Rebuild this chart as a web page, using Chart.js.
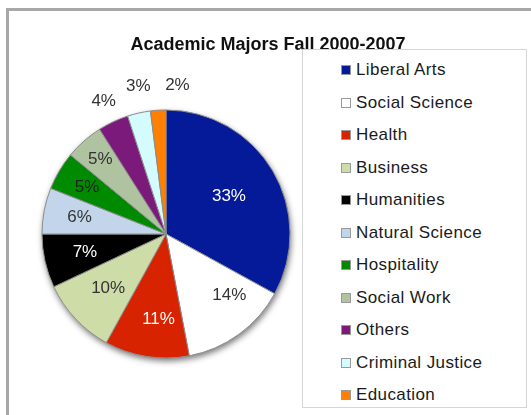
<!DOCTYPE html>
<html>
<head>
<meta charset="utf-8">
<title>Academic Majors Fall 2000-2007</title>
<script src="https://cdn.jsdelivr.net/npm/chart.js@4/dist/chart.umd.min.js"></script>
<style>
    html, body { margin: 0; padding: 0; background: #fff; }
    body {
        width: 531px;
        height: 415px;
        position: relative;
        overflow: hidden;
        font-family: "Liberation Sans", Arial, sans-serif;
    }
    #frame {
        position: absolute;
        left: 6px;
        top: 8px;
        width: 525px;
        height: 407px;
        border-top: 3px solid #a8a8a8;
        border-left: 3px solid #a8a8a8;
        box-sizing: border-box;
    }
    #majorsChart { position: absolute; left: 0; top: 0; }
    #chartTitle {
        position: absolute;
        left: 0;
        width: 536px;
        top: 34px;
        text-align: center;
        font-size: 18px;
        font-weight: bold;
        color: #111;
    }
    #legend {
        position: absolute;
        left: 302px;
        top: 49px;
        width: 225px;
        height: 359px;
        border: 1px solid #d6d6d6;
        box-sizing: border-box;
        background: #fff;
    }
    #legend ul { list-style: none; margin: 0; padding: 4px 0 0 38px; }
    #legend li {
        display: flex;
        align-items: center;
        height: 32.5px;
        font-size: 17px;
        letter-spacing: 0.4px;
        color: #1a1a1a;
    }
    #legend .swatch {
        width: 8px;
        height: 8px;
        border: 1px solid #9a9a9a;
        margin-right: 5px;
        flex: none;
    }
</style>
</head>
<body>
<div id="frame"></div>
<canvas id="majorsChart" width="531" height="415"></canvas>
<div id="chartTitle">Academic Majors Fall 2000-2007</div>
<div id="legend"><ul id="legendList"></ul></div>

<script>
// Majors and their share (%), clockwise from 12 o'clock
const majors = ['Liberal Arts', 'Social Science', 'Health', 'Business', 'Humanities',
    'Natural Science', 'Hospitality', 'Social Work', 'Others', 'Criminal Justice', 'Education'];
const shares = [33, 14, 11, 10, 7, 6, 5, 5, 4, 3, 2];
const sliceColors = ['#041a98', '#ffffff', '#d82300', '#cedca8', '#000000',
    '#c3d5ea', '#008a00', '#afc3a0', '#7b1a7a', '#d4fbfd', '#ff7f00'];
const labelColors = ['#ffffff', '#333333', '#ffffff', '#333333', '#ffffff',
    '#333333', '#222222', '#333333', '#333333', '#333333', '#333333'];

// Where each percentage sits: fraction of the radius, plus a small angle nudge (degrees)
const labelRadius = [0.59, 0.71, 0.69, 0.64, 0.67, 0.71, 0.74, 0.80, 1.18, 1.21, 1.20];
const labelNudge = [0, -10, -4, 0, 0, 0, 0, 0, 0, 2, 8];

// Soft shadow under the whole pie
const pieShadow = {
    id: 'pieShadow',
    beforeDatasetsDraw(chart) {
        const arc = chart.getDatasetMeta(0).data[0];
        if (!arc) return;
        const { x, y, outerRadius } = arc.getProps(['x', 'y', 'outerRadius'], true);
        const ctx = chart.ctx;
        ctx.save();
        ctx.shadowColor = 'rgba(0, 0, 0, 0.55)';
        ctx.shadowBlur = 6;
        ctx.shadowOffsetX = 1;
        ctx.shadowOffsetY = 3;
        ctx.fillStyle = '#ffffff';
        ctx.beginPath();
        ctx.arc(x, y, outerRadius, 0, Math.PI * 2);
        ctx.fill();
        ctx.restore();
    }
};

// Percentage labels on / around the slices
const sliceLabels = {
    id: 'sliceLabels',
    afterDatasetsDraw(chart) {
        const ctx = chart.ctx;
        const meta = chart.getDatasetMeta(0);
        ctx.save();
        ctx.font = '17px "Liberation Sans", Arial, sans-serif';
        ctx.textAlign = 'center';
        ctx.textBaseline = 'middle';
        meta.data.forEach((arc, i) => {
            const p = arc.getProps(['x', 'y', 'startAngle', 'endAngle', 'outerRadius'], true);
            const mid = (p.startAngle + p.endAngle) / 2 + labelNudge[i] * Math.PI / 180;
            const r = p.outerRadius * labelRadius[i];
            ctx.fillStyle = labelColors[i];
            ctx.fillText(shares[i] + '%', p.x + Math.cos(mid) * r, p.y + Math.sin(mid) * r);
        });
        ctx.restore();
    }
};

const chart = new Chart(document.getElementById('majorsChart'), {
    type: 'pie',
    data: {
        labels: majors,
        datasets: [{
            data: shares,
            backgroundColor: sliceColors,
            borderColor: '#8c8c8c',
            borderWidth: 1,
            radius: 124
        }]
    },
    options: {
        responsive: false,
        devicePixelRatio: 1,
        animation: false,
        layout: { padding: { left: 42, right: 241, top: 110, bottom: 57 } },
        plugins: {
            legend: { display: false },
            title: { display: false },
            tooltip: { enabled: false }
        }
    },
    plugins: [pieShadow, sliceLabels]
});

// Legend built from the chart's own labels and colours
const list = document.getElementById('legendList');
chart.data.labels.forEach((label, i) => {
    const li = document.createElement('li');
    const sw = document.createElement('span');
    sw.className = 'swatch';
    sw.style.background = chart.data.datasets[0].backgroundColor[i];
    li.appendChild(sw);
    li.appendChild(document.createTextNode(label));
    list.appendChild(li);
});
</script>
</body>
</html>
